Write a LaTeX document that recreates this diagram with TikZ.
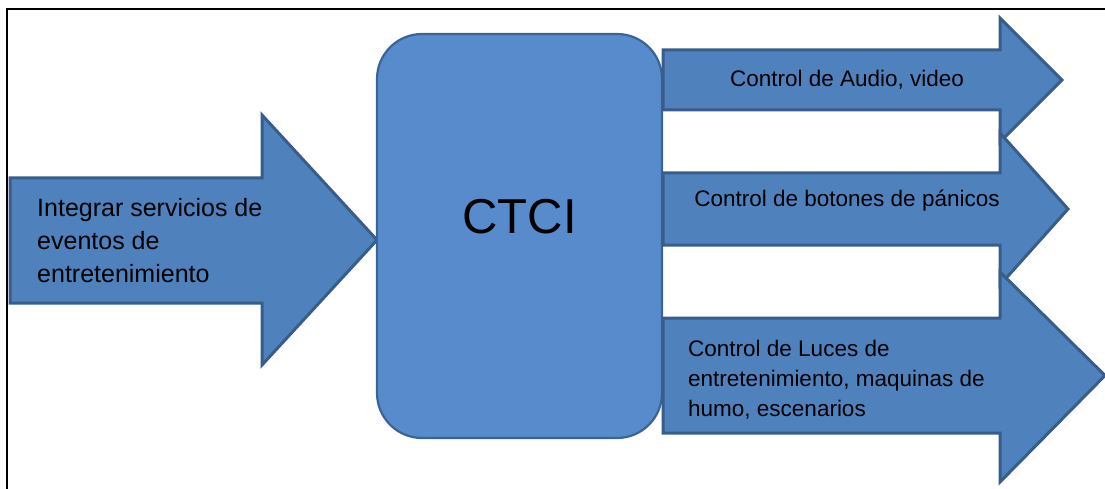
\documentclass[tikz,border=0pt]{standalone}
\usepackage{fontspec}
\setmainfont{Liberation Sans}
\usetikzlibrary{positioning,calc}
\definecolor{arrowblue}{HTML}{4F81BD}
\definecolor{edgeblue}{HTML}{385D8A}
\definecolor{boxblue}{HTML}{578BCB}
\definecolor{boxedge}{HTML}{3A6496}
\tikzset{
  frame/.style={draw=black,line width=1.6pt},
  blockarrow/.style={fill=arrowblue,draw=edgeblue,line width=3pt,line join=miter},
  ctcibox/.style={rectangle,rounded corners=45pt,draw=boxedge,line width=2.2pt,fill=boxblue,minimum width=285pt,minimum height=404pt},
  bigtext/.style={font=\fontsize{49}{55}\selectfont,text=black},
  intext/.style={font=\fontsize{25}{33}\selectfont,text=black,align=left,inner sep=0pt},
  outtext/.style={font=\fontsize{22.5}{30}\selectfont,text=black,align=left,inner sep=0pt}
}
% right arrow: shaft top, shaft bottom, head top, head bottom, tip x
\newcommand{\outarrow}[5]{%
  \draw[blockarrow] (663,#1) -- (1000,#1) -- (1000,#3) -- (#5,{(#1+#2)/2}) -- (1000,#4) -- (1000,#2) -- (663,#2) -- cycle;}

\begin{document}
\begin{tikzpicture}[x=1pt,y=-1pt]
    \useasboundingbox (0,0) rectangle (1105,489);
    \draw[frame] (7,500) |- (1120,9);
    % input arrow
    \draw[blockarrow] (10,178) -- (262,178) -- (262,115) -- (377,240) -- (262,365) -- (262,303) -- (10,303) -- cycle;
    \node[intext,anchor=west] (input) at (37,241) {Integrar servicios de\\eventos de\\entretenimiento};
    % central unit
    \node[ctcibox] (box) at (519.5,236) {};
    \node[bigtext] (ctci) at ([yshift=19pt]box.center) {CTCI};
    % output arrows
    \outarrow{50}{110}{18}{142}{1062}
    \outarrow{173}{245}{133}{285}{1068}
    \outarrow{318}{433}{272}{482}{1105}
    \node[outtext] (audio) at (847,80) {Control de Audio, video};
    \node[outtext] (panic) at (847,201) {Control de botones de pánicos};
    \node[outtext,anchor=west] (lights) at (688,380) {Control de Luces de\\entretenimiento, maquinas de\\humo, escenarios};
  \end{tikzpicture}
\end{document}
